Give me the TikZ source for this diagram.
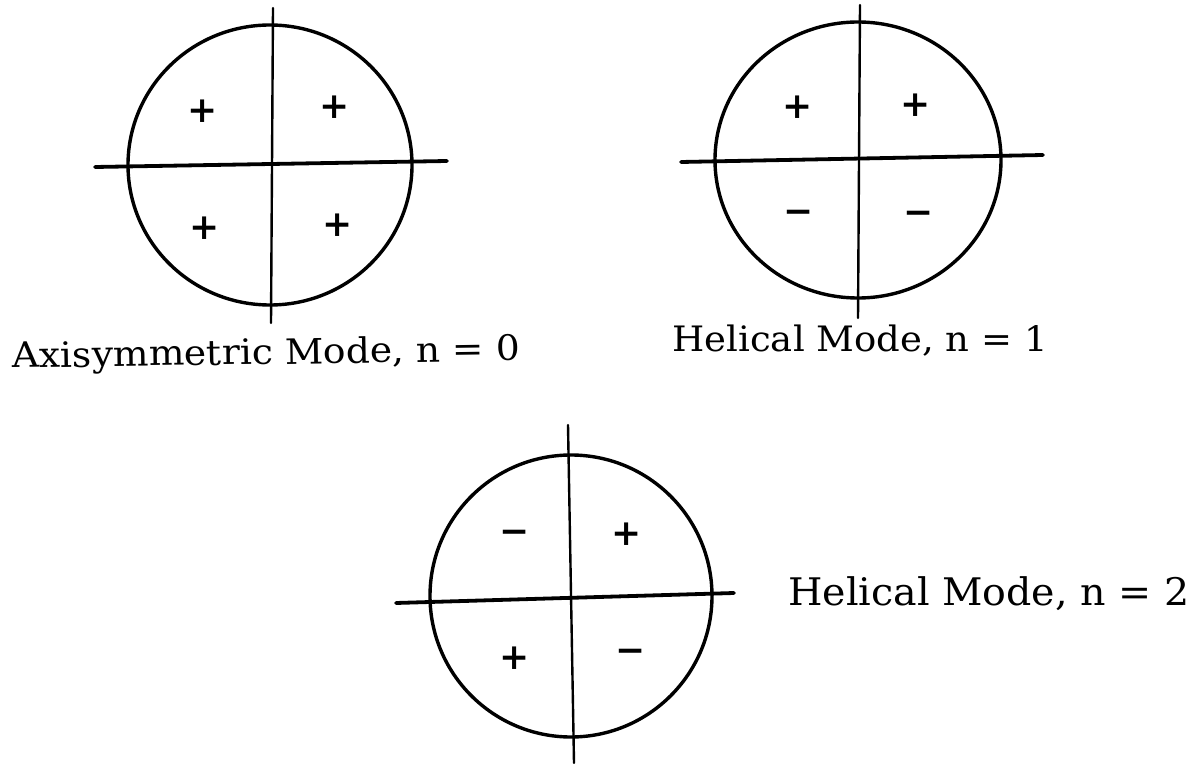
\documentclass[tikz,border=0pt]{standalone}
\usepackage{fontspec}
\setmainfont{DejaVu Serif}
\usetikzlibrary{shapes.geometric}
\tikzset{
  every node/.style = {text=black},
  mdring/.style  = {ellipse, draw, line width=1.7pt, inner sep=0pt},
  mdvert/.style  = {line width=1.2pt, line cap=round},
  mdhorz/.style  = {line width=1.9pt, line cap=round},
  mdsign/.style  = {font=\fontsize{18}{18}\selectfont\bfseries, inner sep=0pt},
  mdlab/.style   = {font=\fontsize{17.5}{21}\selectfont, anchor=base west, inner sep=0pt},
}

\begin{document}
\begin{tikzpicture}[x=0.5pt, y=-0.5pt]
\useasboundingbox (0,0) rectangle (1188,764);

% axisymmetric, n = 0
\node[mdring, minimum width=142pt, minimum height=140pt] (ringa) at (270,165) {};
\coordinate (ringat) at (273,8);   \coordinate (ringab) at (271,323);
\coordinate (ringal) at (95,167);  \coordinate (ringar) at (447,161);
\draw[mdvert] (ringat) -- (ringab);
\draw[mdhorz] (ringal) -- (ringar);
\node[mdlab, xscale=1.075, rotate=0.9] (laba) at (12,368) {Axisymmetric Mode, n = 0};

% helical, n = 1
\node[mdring, minimum width=143pt, minimum height=138pt] (ringb) at (858,160) {};
\coordinate (ringbt) at (860,5);   \coordinate (ringbb) at (858,318);
\coordinate (ringbl) at (681,162); \coordinate (ringbr) at (1043,155);
\draw[mdvert] (ringbt) -- (ringbb);
\draw[mdhorz] (ringbl) -- (ringbr);
\node[mdlab, xscale=1.057] (labb) at (672,352) {Helical Mode, n = 1};

% helical, n = 2
\node[mdring, minimum width=141pt, minimum height=141pt] (ringc) at (571,596) {};
\coordinate (ringct) at (568,425); \coordinate (ringcb) at (574,763);
\coordinate (ringcl) at (396,603); \coordinate (ringcr) at (734,593);
\draw[mdvert] (ringct) -- (ringcb);
\draw[mdhorz] (ringcl) -- (ringcr);
\node[mdlab, xscale=1.04, font=\fontsize{19}{23}\selectfont] (labc) at (788,605) {Helical Mode, n = 2};

% signs
\foreach \nm/\px/\py/\sg in {sa1/203/111/+, sa2/335/107/+, sa3/205/228/+, sa4/338/225/+,
                             sb1/798/107/+, sb2/916/105/+, sb3/799/217/−, sb4/919/218/−,
                             sc1/515/537/−, sc2/627/534/+, sc3/515/658/+, sc4/631/656/−}
  {\node[mdsign] (\nm) at (\px,\py) {\sg};}
\end{tikzpicture}
\end{document}
